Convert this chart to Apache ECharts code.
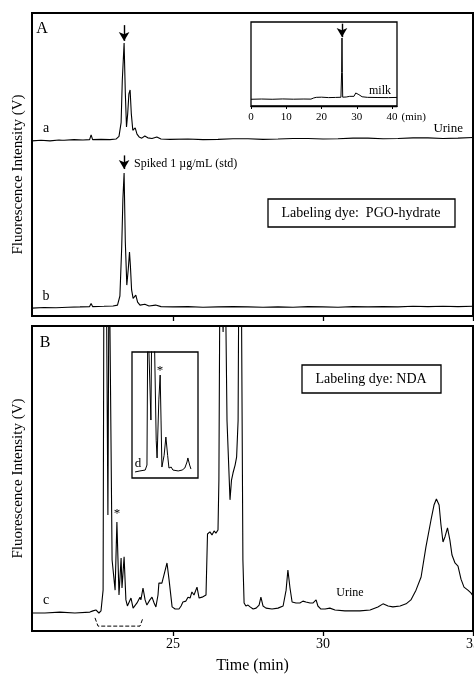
<!DOCTYPE html>
<html>
<head>
<meta charset="utf-8">
<script src="https://cdn.jsdelivr.net/npm/echarts@6/dist/echarts.min.js"></script>
<style>html,body{margin:0;background:#fff}#chart{width:474px;height:674px}</style>
</head>
<body>
<div id="chart"></div>
<script>
// panel A, trace a (urine, PGO-hydrate)
var timeA = [20.3, 20.6, 20.9, 21.2, 21.3, 21.33, 21.37, 21.7, 22.0, 22.22, 22.27, 22.32, 22.6, 22.9, 23.1, 23.2,
  23.27, 23.31, 23.37, 23.41, 23.45, 23.49, 23.53, 23.57, 23.61, 23.66, 23.74, 23.8, 23.87, 23.96, 24.06, 24.16,
  24.3, 24.46, 24.6, 24.9, 25.5, 26.0, 26.5, 27.0, 27.5, 28.0, 28.5, 29.0, 29.5, 30.0, 30.5, 31.0, 31.5, 32.0,
  32.5, 33.0, 33.5, 34.0, 34.5, 35.0];
var traceA = [0.0, 0.2, 0.0, 0.3, 0.2, 0.8, 0.2, 0.4, 0.3, 0.4, 2.0, 0.4, 0.5, 0.4, 0.6, 1.5,
  6, 20, 32.3, 16, 4.6, 9, 15.5, 16.8, 9, 3.5, 4.3, 2.2, 1.3, 0.9, 1.6, 1.0,
  0.8, 1.3, 0.6, 0.5, 0.6, 0.4, 0.5, 0.7, 0.7, 0.5, 0.6, 0.8, 0.8, 0.6, 0.7, 0.9, 0.9, 0.7,
  0.8, 1.0, 1.0, 0.8, 0.9, 1.1];

// panel A, trace b (spiked std)
var timeB = [20.3, 20.7, 21.1, 21.5, 21.9, 22.22, 22.27, 22.32, 22.7, 23.0, 23.15, 23.23,
  23.29, 23.33, 23.37, 23.41, 23.46, 23.51, 23.55, 23.58, 23.62, 23.67, 23.76, 23.82, 23.9, 24.06, 24.2,
  24.42, 24.6, 25.0, 25.5, 26.0, 26.5, 27.0, 27.5, 28.0, 28.5, 29.0, 29.5, 30.0, 30.5, 31.0, 31.5, 32.0,
  32.5, 33.0, 33.5, 34.0, 34.5, 35.0];
var traceB = [0.0, 0.2, 0.1, 0.3, 0.4, 0.5, 1.5, 0.5, 0.6, 0.7, 1.0, 4,
  20, 36, 44.6, 22, 7.6, 13, 18.5, 14, 6, 3.2, 4.3, 2.0, 1.0, 1.3, 0.7,
  1.0, 0.5, 0.4, 0.5, 0.3, 0.4, 0.5, 0.4, 0.3, 0.4, 0.3, 0.5, 0.4, 0.3, 0.5, 0.4, 0.5,
  0.4, 0.6, 0.5, 0.6, 0.5, 0.6];

// panel B, trace c (urine, NDA); values above 100 run off the top of the frame
var timeC = [20.3, 20.73, 21.23, 21.73, 22.23, 22.33, 22.43, 22.53, 22.6, 22.67, 22.7, 22.77, 22.83, 22.87, 22.93,
  22.97, 23.07, 23.13, 23.2, 23.27, 23.3, 23.37, 23.43, 23.48, 23.53, 23.6, 23.67, 23.73, 23.8, 23.9, 23.93,
  24.0, 24.07, 24.13, 24.23, 24.3, 24.37, 24.43, 24.5, 24.53, 24.63, 24.7, 24.8, 24.87, 24.97, 25.07, 25.2,
  25.27, 25.33, 25.43, 25.5, 25.57, 25.63, 25.7, 25.8, 25.87, 25.97, 26.03, 26.1, 26.15, 26.23, 26.3, 26.37,
  26.43, 26.5, 26.53, 26.57, 26.67, 26.73, 26.8, 26.9, 26.95, 27.0, 27.07, 27.12, 27.17, 27.2, 27.27, 27.33,
  27.37, 27.43, 27.5, 27.57, 27.67, 27.77, 27.87, 27.93, 28.0, 28.1, 28.3, 28.5, 28.67, 28.77, 28.83, 28.9,
  28.97, 29.1, 29.23, 29.33, 29.43, 29.57, 29.67, 29.77, 29.83, 29.93, 30.07, 30.23, 30.4, 30.73, 31.23,
  31.57, 31.83, 32.0, 32.17, 32.33, 32.57, 32.77, 32.93, 33.1, 33.27, 33.43, 33.6, 33.7, 33.78, 33.87, 33.93,
  34.0, 34.07, 34.15, 34.23, 34.3, 34.4, 34.5, 34.6, 34.7, 34.83, 34.93, 35.03];
var traceC = [5.9, 5.9, 6.2, 5.9, 6.2, 6.6, 6.9, 5.9, 6.6, 13.4, 130, 130, 38, 130, 130,
  23.3, 13.4, 35.7, 11.8, 23.9, 14.1, 24.3, 10.2, 8.2, 8.5, 10.8, 7.5, 7.9, 9.2, 11.1, 10.2,
  14.1, 10.2, 8.5, 10.2, 11.1, 9.2, 7.9, 11.8, 15.7, 15.7, 18.4, 22.3, 16.7, 7.9, 7.2, 7.2,
  8.2, 9.5, 9.8, 11.1, 10.8, 12.8, 11.8, 14.4, 10.8, 11.1, 10.8, 11.8, 31.8, 32.5, 31.5, 32.8,
  32.1, 33.1, 49.5, 130, 98, 130, 69, 43, 49.5, 51.8, 54.4, 57, 69, 130, 130, 23.3,
  9.2, 8.2, 8.5, 7.9, 7.2, 7.5, 8.5, 11.1, 8.2, 7.5, 7.2, 7.5, 8.2, 13.4, 20, 14.1,
  9.5, 9.2, 9.2, 9.8, 9.5, 9.2, 9.2, 10.2, 8.2, 7.2, 7.2, 7.5, 6.9, 6.6, 6.6,
  6.9, 7.9, 8.9, 8.2, 7.9, 8.2, 8.9, 10.2, 13.4, 17.7, 27.5, 36.4, 41.3, 43.3, 41.3, 35,
  29.2, 31, 33.8, 29.8, 24.9, 22.3, 21.3, 17, 14.4, 13.4, 12.5, 11.1];

// bracket under panel B marking the expanded region (inset d)
var bracketT = [22.4, 22.5, 23.9, 24.0];
var bracketV = [4.3, 1.6, 1.6, 4.3];

// inset d, expanded view of 22.5-24 min
var timeD = [22.57, 22.61, 22.68, 22.8, 22.84, 22.86, 22.9, 22.93, 22.95, 23.0, 23.05, 23.07, 23.11, 23.14,
  23.16, 23.18, 23.23, 23.27, 23.31, 23.34, 23.39, 23.43, 23.55, 23.64, 23.7, 23.75, 23.77, 23.81, 23.84];
var traceD = [4.8, 4.0, 5.6, 6.3, 10.3, 130, 130, 46, 130, 130, 30, 15.9, 62, 81.7,
  46, 8.7, 18, 32.5, 18, 7.9, 8.7, 6.3, 5.6, 6.3, 7.9, 12.7, 15.9, 10.3, 7.1];

// inset: milk sample, 0-40 min
var timeMilk = [0, 3, 6, 9, 12, 15, 17, 17.8, 18.5, 20, 22, 24, 25.5, 25.7, 25.8, 25.9, 26, 27, 28, 28.4,
  29.2, 29.7, 30.1, 30.6, 31.5, 33, 36, 39, 41.4];
var traceMilk = [8.0, 8.3, 8.0, 8.4, 8.1, 8.3, 8.2, 9.6, 10.3, 10.5, 10.0, 10.2, 10.4, 40, 81, 40, 10.5, 10.7, 11.5, 10.6,
  11.5, 15.5, 16.7, 13.5, 11, 10.3, 10.1, 10.0, 10.2];

var mainTicks = [25, 30, 35];
var milkTicks = [0, 10, 20, 30, 40];

var offsetA = 57.8, offsetB = 2.6;
var serif = 'Liberation Serif';

function pairs(t, v, off) {
  return t.map(function (x, i) { return [x, v[i] + (off || 0)]; });
}
function txt(x, y, s, size, align) {
  return {
    type: 'text', x: x, y: y, z: 10,
    style: { text: s, font: size + 'px "' + serif + '"', fill: '#000', textAlign: align || 'center', textVerticalAlign: 'middle' }
  };
}
function box(x, y, w, h) {
  return { type: 'rect', shape: { x: x, y: y, width: w, height: h }, z: 9,
    style: { fill: '#fff', stroke: '#000', lineWidth: 1.3 } };
}
function arrow(t, from, to) {
  return {
    silent: true, symbol: ['none', 'arrow'], symbolSize: [8, 9],
    lineStyle: { color: '#000', width: 1.4, type: 'solid' }, label: { show: false },
    data: [[{ coord: [t, from] }, { coord: [t, to] }]]
  };
}

var lineStyle = { color: '#000', width: 1.1 };
var hiddenY = {
  min: 0, max: 100, axisLine: { show: false }, axisTick: { show: false },
  axisLabel: { show: false }, splitLine: { show: false }
};
var yName = {
  name: 'Fluorescence Intensity (V)', nameLocation: 'middle', nameGap: 6,
  nameTextStyle: { fontFamily: serif, fontSize: 15, color: '#000' }
};

var chart = echarts.init(document.getElementById('chart'));
chart.setOption({
  animation: false,
  backgroundColor: '#fff',
  grid: [
    { left: 32, right: 1, top: 13, height: 303, show: true, borderColor: '#000', borderWidth: 2, outerBoundsMode: 'none' },
    { left: 32, right: 1, top: 326, height: 305, show: true, borderColor: '#000', borderWidth: 2, outerBoundsMode: 'none' },
    { left: 251, top: 22, width: 146, height: 84, show: true, borderColor: '#000', borderWidth: 1.3, outerBoundsMode: 'none' },
    { left: 132, top: 352, width: 66, height: 126, show: true, borderColor: '#000', borderWidth: 1.3, outerBoundsMode: 'none' }
  ],
  xAxis: [
    { gridIndex: 0, type: 'value', min: 20.3, max: 35,
      axisLine: { lineStyle: { color: '#000', width: 2 } },
      axisTick: { customValues: mainTicks, length: 5, lineStyle: { color: '#000', width: 1.3 } },
      axisLabel: { show: false }, splitLine: { show: false } },
    { gridIndex: 1, type: 'value', min: 20.3, max: 35,
      axisLine: { lineStyle: { color: '#000', width: 2 } },
      axisTick: { customValues: mainTicks, length: 5, lineStyle: { color: '#000', width: 1.3 } },
      axisLabel: { customValues: mainTicks, margin: 6, fontFamily: serif, fontSize: 14, color: '#000' },
      splitLine: { show: false },
      name: 'Time (min)', nameLocation: 'middle', nameGap: 27,
      nameTextStyle: { fontFamily: serif, fontSize: 16, color: '#000' } },
    { gridIndex: 2, type: 'value', min: 0, max: 41.4,
      axisLine: { lineStyle: { color: '#000', width: 1.3 } },
      axisTick: { customValues: milkTicks, length: 3, lineStyle: { color: '#000' } },
      axisLabel: { customValues: milkTicks, margin: 6, fontFamily: serif, fontSize: 11, color: '#000' },
      splitLine: { show: false },
      name: '(min)', nameLocation: 'end', nameGap: 4,
      nameTextStyle: { fontFamily: serif, fontSize: 11, color: '#000', verticalAlign: 'top', padding: [6, 0, 0, 0] } },
    { gridIndex: 3, type: 'value', min: 22.5, max: 24.0, show: false }
  ],
  yAxis: [
    Object.assign({ gridIndex: 0 }, hiddenY, yName, { nameTextStyle: { fontFamily: serif, fontSize: 15, color: '#000', padding: [0, 20, 0, 0] } }),
    Object.assign({ gridIndex: 1 }, hiddenY, yName),
    Object.assign({ gridIndex: 2 }, hiddenY),
    Object.assign({ gridIndex: 3 }, hiddenY)
  ],
  series: [
    { type: 'line', xAxisIndex: 0, yAxisIndex: 0, data: pairs(timeA, traceA, offsetA), showSymbol: false,
      lineStyle: lineStyle, markLine: arrow(23.37, 96, 90.8) },
    { type: 'line', xAxisIndex: 0, yAxisIndex: 0, data: pairs(timeB, traceB, offsetB), showSymbol: false,
      lineStyle: lineStyle, markLine: arrow(23.37, 53, 48.5) },
    { type: 'line', xAxisIndex: 1, yAxisIndex: 1, data: pairs(timeC, traceC), showSymbol: false,
      lineStyle: lineStyle, clip: true },
    { type: 'line', xAxisIndex: 1, yAxisIndex: 1, data: pairs(bracketT, bracketV), showSymbol: false,
      lineStyle: { color: '#000', width: 1, type: [4, 2] } },
    { type: 'line', xAxisIndex: 2, yAxisIndex: 2, data: pairs(timeMilk, traceMilk), showSymbol: false,
      lineStyle: { color: '#000', width: 1 }, markLine: arrow(25.8, 98, 82) },
    { type: 'line', xAxisIndex: 3, yAxisIndex: 3, data: pairs(timeD, traceD), showSymbol: false,
      lineStyle: { color: '#000', width: 1 }, clip: true }
  ],
  graphic: [
    txt(42, 29, 'A', 16),
    txt(46, 128, 'a', 14),
    txt(46, 296, 'b', 14),
    txt(463, 129, 'Urine', 13, 'right'),
    txt(134, 164, 'Spiked 1 \u00b5g/mL (std)', 12, 'left'),
    txt(391, 91, 'milk', 12, 'right'),
    box(268, 199, 187, 28),
    txt(361, 213, 'Labeling dye:  PGO-hydrate', 14),
    txt(45, 343, 'B', 16),
    box(302, 365, 139, 28),
    txt(371, 379, 'Labeling dye: NDA', 14),
    txt(46, 600, 'c', 14),
    txt(350, 593, 'Urine', 12),
    txt(117, 514, '*', 13),
    txt(160, 371, '*', 13),
    txt(138, 464, 'd', 13)
  ]
});
</script>
</body>
</html>
